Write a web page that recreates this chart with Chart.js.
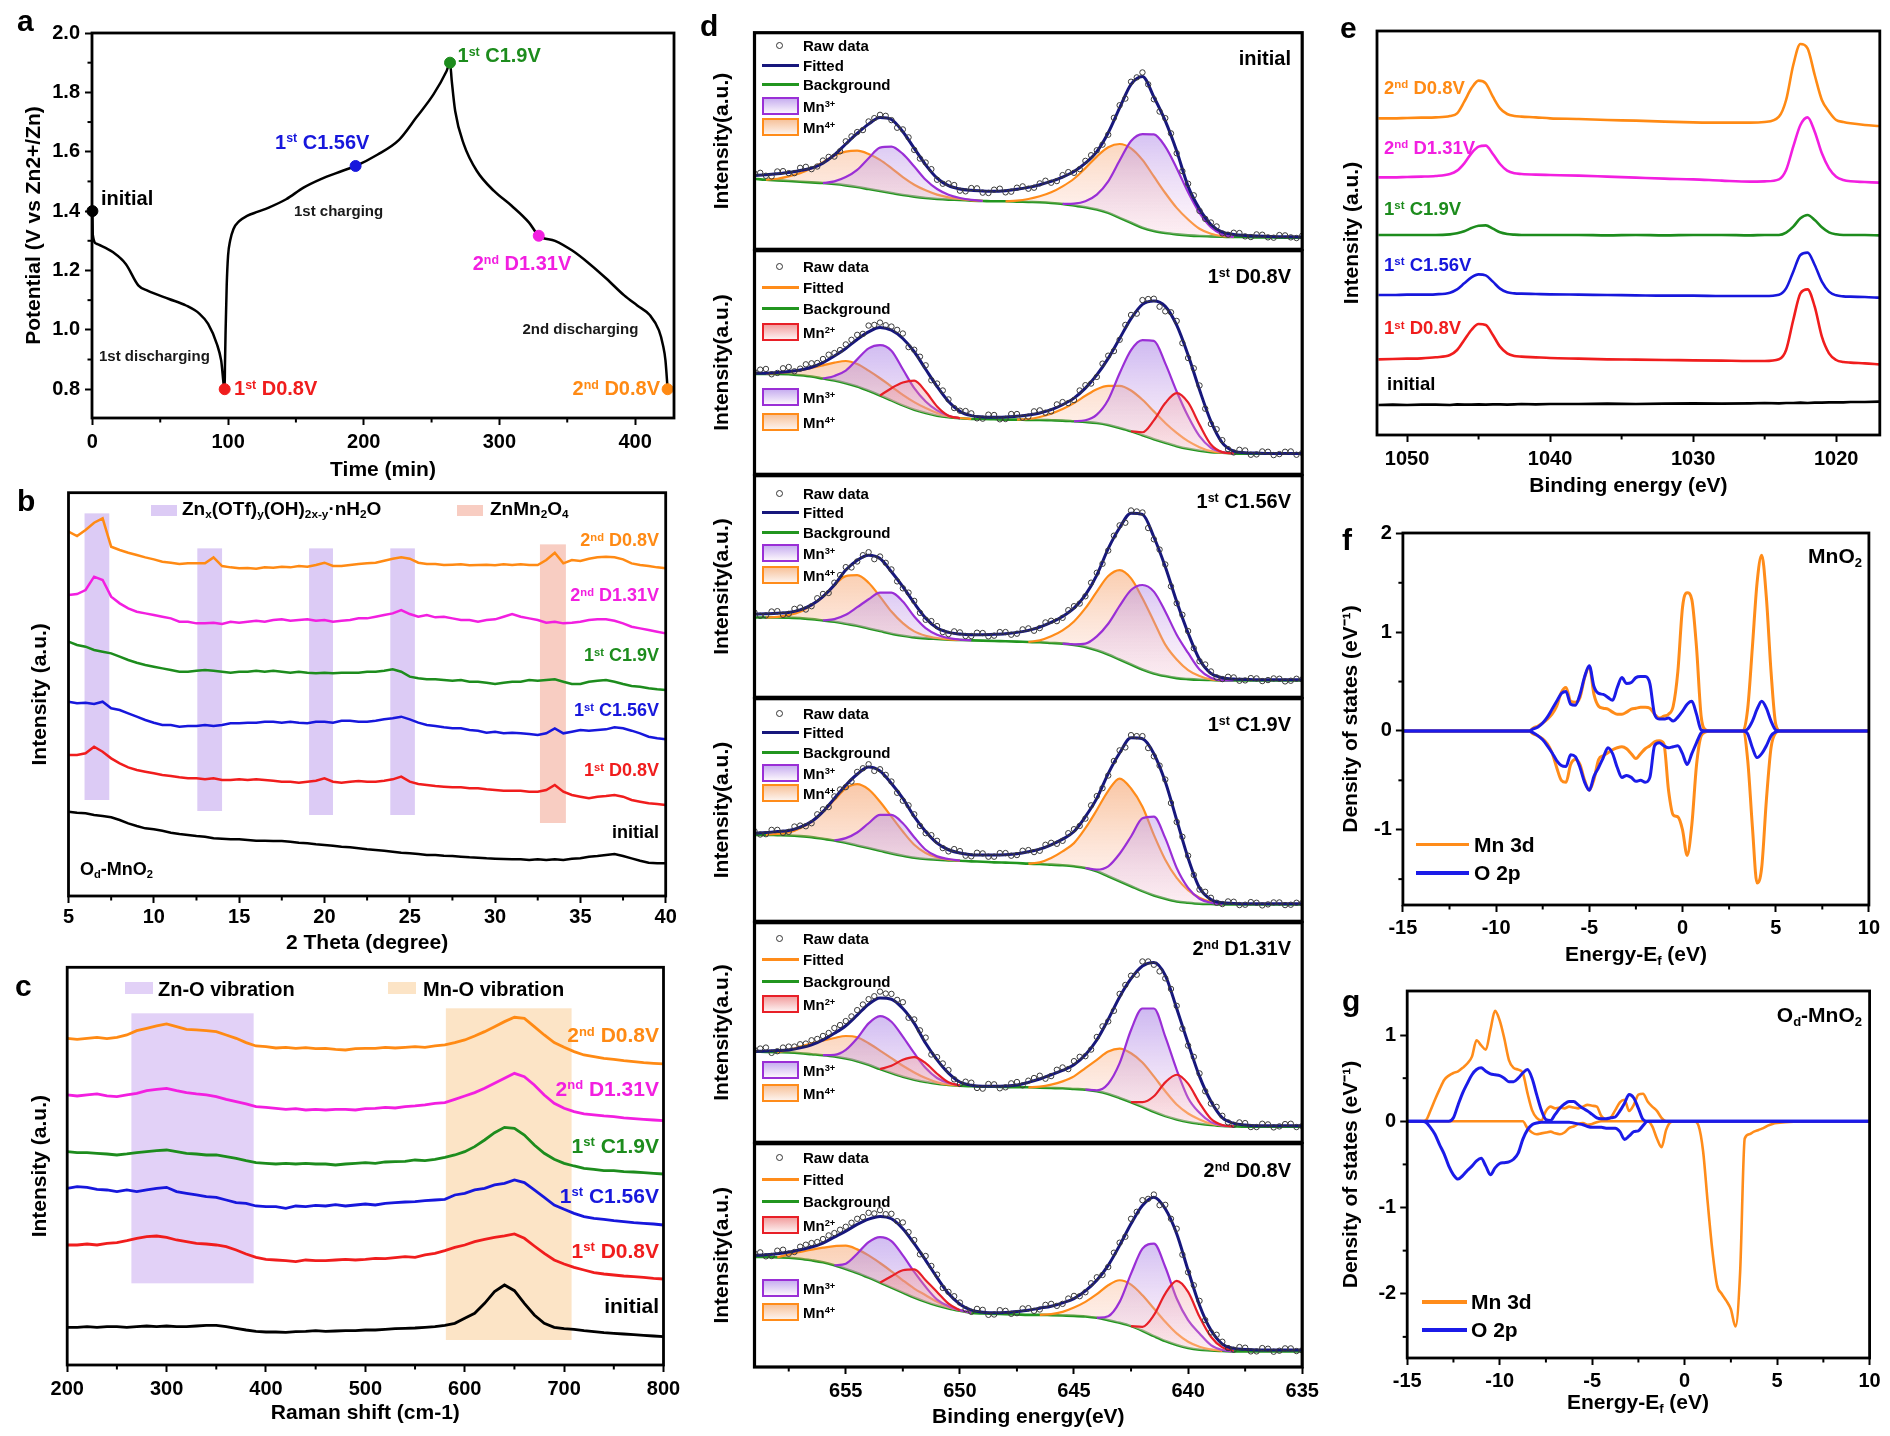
<!DOCTYPE html>
<html lang="en">
<head>
<meta charset="UTF-8">
<title>Mn valence evolution - panels a to g</title>
<style>
  * { box-sizing: border-box; }
  body {
    margin: 0; width: 1890px; height: 1436px; background: #fff;
    position: relative; overflow: hidden;
    font-family: 'Liberation Sans', Arial, Helvetica, sans-serif;
  }
  canvas { position: absolute; }
  .t { position: absolute; white-space: nowrap; font-weight: bold; line-height: 1; }
  .t sup { font-size: 0.62em; position: relative; top: -0.5em; vertical-align: baseline; line-height: 0; }
  .t sub { font-size: 0.62em; position: relative; top: 0.3em; vertical-align: baseline; line-height: 0; }
  .sym { position: absolute; }
</style>
<script src="https://cdn.jsdelivr.net/npm/chart.js"></script>
</head>
<body>
<script>
const _ = null;

// colours
const ORANGE = '#ff8a14', MAGENTA = '#f21fe0', GREEN = '#1d8c1d', BLUE = '#1717dc', RED = '#f01d1d';
const NAVY = '#17177c', BGGREEN = '#22961f', PURPLE = '#9a2fd6', MN4C = '#ff8c1a', MN2C = '#e81f27';
const DOS_OR = '#ff8c1a', DOS_BL = '#1b1be8';

// ---------- a: charge / discharge ----------
const aTime = [0,0.3,3,10,15,24.6,34,40.6,56.5,69,79,85.3,91.7,94.9,97.5,97.7,98.2,99,100,101.5,104,108,114,122,130,142.8,155.6,168,184,194,210,226,238.7,251.4,261,263.6,264.9,267.4,273.8,283.4,296,309,321.7,329,341,353.7,366.5,379,392,401.6,411,417.6,420.5,422.4,424];
const aPot = [1.40,1.32,1.29,1.275,1.262,1.222,1.149,1.132,1.104,1.082,1.054,1.02,0.953,0.897,0.80,0.88,1.00,1.15,1.25,1.30,1.34,1.365,1.384,1.398,1.412,1.44,1.479,1.507,1.535,1.552,1.59,1.64,1.715,1.793,1.871,1.90,1.838,1.737,1.625,1.535,1.468,1.418,1.362,1.317,1.30,1.267,1.222,1.172,1.116,1.082,1.049,0.998,0.95,0.897,0.80];
const aMarkT = [0, 97.5, 194, 263.6, 329, 424];
const aMarkV = [1.40, 0.80, 1.552, 1.90, 1.317, 0.80];
const aTimeTicks = [0, 100, 200, 300, 400];
const aTimeMinor = [50, 150, 250, 350];
const aPotTicks = [0.8, 1.0, 1.2, 1.4, 1.6, 1.8, 2.0];
const aPotMinor = [0.9, 1.1, 1.3, 1.5, 1.7, 1.9];

// ---------- b: XRD ----------
const bTheta = [5,5.5,6,6.5,7,7.5,8,8.5,9,9.5,10,10.5,11,11.5,12,12.5,13,13.5,14,14.5,15,15.5,16,16.5,17,17.5,18,18.5,19,19.5,20,20.5,21,21.5,22,22.5,23,23.5,24,24.5,25,25.5,26,26.5,27,27.5,28,28.5,29,29.5,30,30.5,31,31.5,32,32.5,33,33.5,34,34.5,35,35.5,36,36.5,37,37.5,38,38.5,39,39.5,40];
const bD2_08 = [109.5,108.2,110,112.2,113.5,105,104,103.2,102.5,101.8,101.2,100.5,100.2,99.8,100,100,100,101.8,99.2,98.8,98.5,98.6,98.4,98.8,98.7,99,98.8,99.2,99,99.5,100.2,99.2,99.2,99.5,99.8,100,100.2,100.8,101.4,101.8,101.4,100.2,99.8,99.8,99.5,99.6,99.7,99.4,99.5,99.6,99.4,99.7,99.5,99.7,99.5,99.5,101,103.2,100,101,100.7,101.4,101.8,102,101.8,101.2,100,99.5,99.2,98.8,98.5];
const bD2_131 = [90.5,90.8,92,96,95,90,88,86.5,85.5,85,84.5,84,83.5,82.5,82.5,82,82,82.2,81.8,82.5,82.2,82.5,82.8,82.5,83,83.2,82.8,83,83.2,82.8,83,82.5,82.8,83,83.5,83.5,84,84.5,85,86,84.8,84,84.5,83.8,84,83.5,83,83,82.5,83,83.2,84,84.8,84,83.5,83,82.2,82.5,82,82.2,82.5,83,83.2,83.2,82.8,82,81,80.5,80,79.5,79];
const bC1_19 = [76.5,75.5,75,74,73.5,73,72,71,70.2,69.5,69,68.5,68,67.5,67.5,67.8,68,67.8,67.5,67.2,67.5,67.5,67.8,67.5,67.8,67.5,67.2,67.5,67.2,67,67.2,67,67.2,67.2,67.2,67.5,67.5,67.8,68.2,67.5,66,65.5,65.2,65.2,65,64.8,65,64.5,64.5,64.2,63.8,64.2,64.5,64.5,65,64.8,65,65.2,64.5,63.8,63.8,64.5,64.8,65,64.5,63.8,63.2,63,62.5,62.2,62];
const bC1_156 = [58.5,58,58.2,57.8,58.5,56.5,56,55,54,53,52.2,51.5,51.5,51,51.2,51.2,51.5,51.2,51.5,52,52,52.2,52.2,52.5,52.5,52.2,52.5,52.2,52,52.5,52.5,52.2,52.8,52.8,52.5,52.5,52.8,53.2,53.5,54,53.2,52.2,51.5,51.2,50.8,50.5,50.5,50,49.8,49.2,49.5,49,49.2,49,48.8,48.5,49,50.5,49,49.5,50,49.8,50,50.2,50.8,50.5,49.8,49,48,47.5,47.2];
const bD1_08 = [42.5,42.5,43,45,43.5,41.5,40,38.8,38,37.5,37,36.5,36.2,35.8,35.5,35.5,35.2,35.5,35,35,35.2,35,35.2,35,34.8,34.5,34.5,34.2,34.5,34.8,35.5,34.5,34.2,34.5,34.7,34.5,34.5,34.8,35.2,36,34.5,33.8,33.5,33.2,33,32.8,32.8,32.5,32.5,32.2,32,31.8,31.8,31.8,31.5,31.5,32,33.5,31.5,30.5,30,29.5,30,30.2,30.5,30,29,28.5,28,27.8,27.5];
const bInit = [25.5,25.2,25,24.5,24.2,23.8,23,22,21.2,20.5,20.2,19.8,19.2,18.8,18.5,18.2,18,17.5,17.4,17.2,17.2,17,16.8,16.8,16.7,16.7,16.5,16.2,16,15.7,15.5,15.3,15,14.8,14.5,14.2,14,13.8,13.5,13.2,13,12.8,12.5,12.5,12.3,12.2,12,11.8,11.7,11.5,11.4,11.3,11.2,11.2,11,11.2,11,11.2,11,11.4,11.5,12,12.2,12.5,12.8,12.2,11.5,10.8,10.2,10,10];
const bThetaTicks = [5, 10, 15, 20, 25, 30, 35, 40];
const bThetaMinor = [7.5, 12.5, 17.5, 22.5, 27.5, 32.5, 37.5];
const bBandX0 = [5.94, 12.55, 19.1, 23.86, 32.63];
const bBandX1 = [7.39, 14.0, 20.5, 25.3, 34.15];
const bBandY0 = [29, 25.7, 24.5, 24.5, 22.1];
const bBandY1 = [115, 104.5, 104.5, 104.5, 105.7];

// ---------- c: Raman ----------
const cShift = [200,210,220,230,240,250,260,270,280,290,300,310,320,330,340,350,360,370,380,390,400,410,420,430,440,450,460,470,480,490,500,510,520,530,540,550,560,570,580,590,600,610,620,630,640,650,660,670,680,690,700,710,720,730,740,750,760,770,780,790,800];
const cD2_08 = [98,97.7,98,98.3,97.9,98.3,99,100.3,101,101.7,102.3,101.5,100.7,100.5,100.3,100,99,98,96.7,95.7,95.5,95.1,95.3,95,95.2,94.9,95,94.7,94.5,94.9,95,95,95.3,95.1,95.3,95.5,95.3,95.7,96,96.7,97.5,98.7,100,101.5,103,104.3,104,101.5,99,96.7,95.3,94,93,92.5,92,91.7,91.3,91,90.7,90.5,90.3];
const cD2_131 = [81,80.7,81,81.3,80.7,80.5,81,81.5,82.3,82.7,83,82.3,81.7,81.3,81,80.5,79.7,79,78.3,77.5,77.3,77,76.7,76.9,76.5,76.7,76.5,76.7,76.7,76.5,76.9,77,77.3,77.1,77.5,77.7,78,78.5,78.7,79.7,80.7,81.7,83,84.5,86,87.5,86.5,84,81,78.5,77,76,75.3,75,74.7,74.5,74.1,73.9,73.7,73.5,73.3];
const cC1_19 = [64,63.7,63.7,63.5,63.3,63,63.3,63.7,64,64.3,64.5,64,63.5,63.3,63,63,62.5,62,61.3,60.7,60.5,60.3,60.5,60.3,60.5,60.3,60.3,60,60.3,60.5,60.7,60.5,60.9,61,61.1,61.5,61.3,61.7,62.3,63,64,65.5,67.5,69.7,71.3,71,69,66,63.5,61.7,60.5,59.7,59,58.7,58.3,58.3,58,57.9,57.7,57.5,57.3];
const cC1_156 = [53,53.5,53.3,52.7,52.5,52,52.5,52,52.5,53,53.3,52,51.5,51,50.5,50.3,49.5,48.7,48.5,47.7,47.5,47.5,47,47.7,47.5,47.9,47.7,48.1,47.7,48,48.3,48,48.5,48.7,48.9,49,49.3,49.5,49.7,51,51.5,52.5,53,54,54.5,55.5,54.7,52.5,50.3,48,46.7,45.5,44.5,44,43.7,43.3,43,42.7,42.5,42.3,42];
const cD1_08 = [36,36,36.3,36,36.5,36.7,37.3,38,38.5,38.7,38.3,37.5,37,36.5,36.3,36,35.5,34.5,33.3,32.3,31.7,31.5,31.3,31,31.5,31.3,31.3,31.5,31.7,31.5,31.7,32,31.9,32.2,32.5,32.3,33,33.5,34.3,35.3,36,37,37.7,38.3,38.7,39.3,38,35.7,33.5,31.5,30.3,29.3,28.5,27.7,27.3,27,26.7,26.5,26.3,26,25.8];
const cInit = [11.3,11.3,11.5,11.3,11.5,11.5,11.3,11.5,11.7,11.5,11.7,11.5,11.5,11.7,11.9,11.9,11.5,11,10.5,10.1,9.9,9.9,9.8,10,10.1,10.3,10.1,10.2,10.3,10.3,10.5,10.5,10.7,10.9,11,11.1,11.3,11.5,11.9,12.5,14,15.5,18.5,22,24,22.3,18.5,15,12.5,11.3,10.9,10.7,10.3,10,9.7,9.5,9.3,9.1,8.9,8.7,8.5];
const cShiftTicks = [200, 300, 400, 500, 600, 700, 800];
const cShiftMinor = [250, 350, 450, 550, 650, 750];
const cBandX0 = [264.6, 581];
const cBandX1 = [387.6, 707.5];
const cBandY0 = [24.5, 7.5];
const cBandY1 = [105.5, 107];

// ---------- d: Mn 2p XPS fits ----------
const dBE = [659,658.5,658,657.5,657,656.5,656,655.5,655,654.5,654,653.5,653,652.5,652,651.5,651,650.5,650,649.5,649,648.5,648,647.5,647,646.5,646,645.5,645,644.5,644,643.5,643,642.5,642,641.5,641,640.5,640,639.5,639,638.5,638,637.5,637,636.5,636,635.5,635];
const dBEMid = [658.75,658.25,657.75,657.25,656.75,656.25,655.75,655.25,654.75,654.25,653.75,653.25,652.75,652.25,651.75,651.25,650.75,650.25,649.75,649.25,648.75,648.25,647.75,647.25,646.75,646.25,645.75,645.25,644.75,644.25,643.75,643.25,642.75,642.25,641.75,641.25,640.75,640.25,639.75,639.25,638.75,638.25,637.75,637.25,636.75,636.25,635.75,635.25];
const dBETicks = [655, 650, 645, 640, 635];
const dBEMinor = [657.5, 652.5, 647.5, 642.5, 637.5];

const d1Bg = [21.3,21.0,20.8,20.6,20.4,20.2,20.0,19.7,19.3,18.8,18.2,17.6,17.0,16.4,15.9,15.5,15.2,15.0,14.9,14.7,14.6,14.5,14.5,14.4,14.3,14.2,14.0,13.7,13.2,12.7,12.0,11.0,9.5,8.0,6.5,5.5,4.9,4.5,4.2,4.0,3.9,3.8,3.7,3.7,3.6,3.6,3.5,3.5,3.5];
const d1Fit = [22.3,22.5,22.8,23.2,23.8,24.5,26.0,28.5,31.8,35.0,37.8,39.8,39.2,35.5,30.5,25.5,21.5,19.2,18.2,17.8,17.6,17.5,17.7,18.1,18.7,19.5,20.5,21.8,23.5,26.0,29.5,35.2,42.7,49.8,52.2,46.0,38.8,29.7,19.0,12.2,7.5,5.2,4.5,4.2,4.0,3.9,3.8,3.8,3.7];
const d1Raw = [22.9,22.2,23.5,23.0,24.6,24.2,26.8,28.0,32.6,35.4,38.6,40.6,39.0,36.2,30.0,26.2,21.0,19.9,17.7,18.5,17.1,18.0,17.2,18.6,18.3,19.9,20.1,22.4,23.1,26.7,29.9,34.6,43.5,50.6,53.4,45.3,39.6,29.0,19.8,11.6,8.1,4.8,5.0,3.9,4.5,3.6,4.3,3.6,4.1];
const d1RawMid = [23.1,22.0,23.6,23.0,24.9,25.0,27.9,29.6,34.1,36.0,39.6,40.3,36.7,33.8,27.4,24.2,19.8,19.4,17.5,18.4,17.0,18.3,17.4,19.0,18.6,20.7,20.6,23.3,24.2,28.4,31.6,39.7,45.5,51.9,49.8,41.6,35.0,23.6,16.3,9.2,6.9,4.4,4.9,3.7,4.4,3.5,4.2,3.4];
const d1Mn3 = [_,_,_,_,_,_,20.0,20.5,21.8,24.0,27.5,30.7,31.0,28.8,25.0,21.0,18.2,16.5,15.5,14.9,14.6,_,_,_,_,_,_,13.7,13.8,14.5,16.5,20.5,26.8,32.7,34.8,34.7,31.0,24.5,17.2,11.0,6.7,4.5,3.7,_,_,_,_,_,_];
const d1Mn4 = [_,21.0,21.3,22.0,23.0,24.5,26.3,28.3,29.5,29.8,28.8,27.0,24.5,21.8,19.5,17.8,16.5,15.7,15.2,14.8,14.6,_,14.5,14.7,15.2,16.0,17.2,19.0,21.3,24.5,28.0,30.8,31.8,30.5,27.0,22.0,17.0,12.5,9.0,6.2,4.7,4.0,3.7,_,_,_,_,_,_];

const d2Bg = [30.3,30.3,30.3,30.2,29.9,29.5,28.9,28.3,27.5,26.5,25.2,23.8,22.3,20.8,19.5,18.5,17.7,17.2,16.9,16.7,16.7,16.6,16.5,16.5,16.4,16.4,16.3,16.2,16.0,15.8,15.5,14.9,14.0,13.0,11.8,10.6,9.5,8.5,7.7,7.1,6.7,6.5,6.3,6.2,6.2,6.2,6.2,6.2,6.2];
const d2Fit = [30.5,30.5,30.7,31.0,31.5,32.3,33.7,35.7,38.0,40.7,43.0,44.3,43.5,41.0,37.0,31.7,26.5,22.0,19.0,17.7,17.3,17.2,17.3,17.5,17.9,18.5,19.5,21.0,23.0,26.0,30.0,35.0,41.0,47.0,51.3,52.3,50.7,45.0,36.0,25.5,16.0,9.5,7.0,6.5,6.4,6.3,6.3,6.3,6.3];
const d2Raw = [30.9,31.8,30.6,32.4,31.9,33.5,34.8,36.6,39.2,42.1,44.9,45.8,44.6,42.5,37.6,32.9,27.4,22.6,19.2,18.4,16.8,17.9,16.7,18.2,17.4,19.3,19.0,21.8,22.4,26.9,29.4,35.8,40.6,48.1,52.6,53.0,49.2,46.3,35.1,26.8,15.2,10.3,6.6,7.2,6.0,6.8,6.1,6.9,6.4];
const d2RawMid = [31.6,30.2,32.0,31.1,33.2,33.6,36.1,37.5,40.6,42.4,45.1,45.0,43.6,38.4,35.5,28.4,25.3,20.0,19.1,16.9,18.0,16.6,18.2,17.1,19.0,18.6,21.1,21.5,25.3,27.4,33.4,37.2,45.1,48.5,52.9,50.6,48.9,39.6,32.0,19.8,13.6,7.6,7.4,5.9,6.9,5.8,6.8,5.9];
const d2Mn2 = [_,_,_,_,_,_,_,_,_,_,_,23.8,26.0,27.7,28.3,25.0,20.5,17.7,16.9,_,_,_,_,_,_,_,_,_,_,_,_,_,_,13.0,12.7,16.3,21.5,24.5,21.7,15.0,9.0,6.7,6.3,_,_,_,_,_,_];
const d2Mn3 = [_,_,_,_,_,_,28.9,29.7,31.3,34.7,38.0,39.0,37.3,31.7,26.0,22.0,19.3,17.7,16.9,_,_,_,_,_,_,_,_,_,16.0,16.3,18.0,22.5,30.5,37.5,40.5,40.3,33.5,25.0,17.5,11.5,8.0,6.7,6.3,_,_,_,_,_,_];
const d2Mn4 = [_,30.3,30.5,30.9,31.4,32.1,32.9,33.7,34.2,33.3,31.3,29.0,26.5,24.0,21.8,20.0,18.5,17.5,17.0,16.7,_,_,_,16.5,16.7,17.3,18.3,19.7,21.5,23.7,25.7,26.7,26.7,25.3,22.5,19.0,15.5,12.5,10.0,8.2,7.0,6.5,6.3,_,_,_,_,_,_];

const d3Bg = [24.1,24.1,24.1,24.0,23.9,23.6,23.2,22.8,22.2,21.6,20.8,20.0,19.2,18.6,18.1,17.8,17.6,17.4,17.3,17.2,17.1,17.0,16.9,16.8,16.7,16.6,16.4,16.2,15.8,15.2,14.2,12.9,11.4,9.9,8.4,7.2,6.4,5.8,5.5,5.3,5.2,5.1,5.1,5.1,5.1,5.1,5.1,5.1,5.1];
const d3Fit = [25.1,25.2,25.4,25.6,26.4,27.9,30.4,33.9,38.4,41.4,42.9,41.9,37.9,33.4,28.4,23.9,20.9,19.6,19.1,18.9,18.9,19.0,19.2,19.6,20.2,21.2,22.6,24.4,26.9,30.9,36.9,44.9,51.2,55.6,55.2,48.4,39.4,28.9,19.4,11.4,7.2,5.9,5.5,5.4,5.3,5.3,5.3,5.3,5.3];
const d3Raw = [25.6,24.7,26.0,25.2,27.1,27.5,31.2,34.6,39.3,41.0,43.8,42.5,38.6,32.9,29.1,23.4,21.5,19.1,19.6,18.5,19.4,18.6,19.7,19.2,20.8,20.9,23.1,24.0,27.5,30.5,37.6,44.3,51.9,56.4,55.8,47.7,40.1,28.4,20.0,10.9,7.8,5.5,6.0,5.1,5.7,5.2,5.6,5.0,5.4];
const d3RawMid = [24.6,25.9,24.9,26.7,26.5,29.9,31.5,36.9,39.2,42.9,41.7,40.6,35.0,31.6,25.5,23.0,19.7,19.9,18.5,19.5,18.4,19.7,18.9,20.5,20.1,22.6,23.0,26.3,28.3,34.6,40.3,48.8,52.7,56.1,51.1,44.6,33.5,24.9,14.8,9.9,6.0,6.2,5.0,5.8,4.9,5.7,4.8,5.6];
const d3Mn3 = [_,_,_,_,_,_,23.2,23.6,24.9,27.2,29.6,31.6,31.6,28.9,24.4,20.9,18.9,17.9,17.4,17.2,_,_,_,_,_,_,_,16.2,16.0,16.2,18.4,22.2,27.6,32.4,33.9,31.9,25.9,18.9,13.4,8.4,5.9,5.1,5.1,_,_,_,_,_,_];
const d3Mn4 = [_,24.1,24.3,24.8,25.8,27.9,30.4,33.9,36.6,36.9,34.6,30.4,25.9,22.4,19.9,18.6,17.9,17.5,17.3,_,_,_,_,_,16.7,17.2,18.4,20.2,22.9,26.9,31.9,36.6,38.4,35.9,29.9,22.9,15.9,11.4,8.2,6.4,5.4,5.1,_,_,_,_,_,_,_];

const d4Bg = [26.1,26.1,26.0,25.9,25.7,25.4,24.9,24.4,23.7,22.9,22.1,21.3,20.5,19.8,19.2,18.8,18.6,18.4,18.3,18.1,18.0,17.8,17.7,17.6,17.4,17.3,17.1,16.9,16.6,16.1,15.1,13.6,12.1,10.6,9.1,7.8,6.8,6.0,5.6,5.3,5.2,5.1,5.1,5.1,5.1,5.1,5.1,5.1,5.1];
const d4Fit = [26.6,26.8,27.1,27.4,28.4,30.1,33.1,37.1,41.1,44.4,46.6,45.4,41.6,37.1,31.6,27.1,23.6,21.6,20.6,20.1,20.0,20.0,20.1,20.4,21.0,21.8,23.1,24.8,27.1,31.6,37.1,44.6,50.8,55.4,55.1,50.6,42.1,30.6,19.1,10.1,6.6,5.6,5.4,5.3,5.3,5.3,5.3,5.3,5.3];
const d4Raw = [27.2,26.3,27.6,27.0,28.9,29.6,33.8,37.7,40.5,45.1,47.4,45.9,42.2,36.4,32.3,26.6,24.3,21.1,21.2,19.6,20.5,19.5,20.6,20.0,21.5,21.3,23.7,24.3,27.8,31.0,37.8,44.0,51.6,56.2,55.9,49.8,42.8,30.0,19.8,9.6,7.1,5.2,5.9,5.0,5.6,5.1,5.7,5.0,5.5];
const d4RawMid = [26.2,27.6,26.7,28.6,28.7,32.3,34.5,39.8,42.2,46.2,45.4,44.2,38.8,35.0,28.8,26.0,22.1,21.8,19.8,20.7,19.5,20.6,19.8,21.3,20.9,23.1,23.4,26.6,28.8,35.0,40.2,48.4,52.5,55.9,52.3,47.0,35.7,25.5,14.0,8.9,5.6,6.0,4.9,5.8,4.8,5.7,4.9,5.6];
const d4Mn3 = [_,_,_,_,_,_,_,24.4,25.1,26.8,29.6,32.1,32.1,29.6,25.4,21.6,19.6,18.8,18.3,_,_,_,_,_,_,_,_,_,_,16.1,15.6,16.6,20.4,25.6,31.1,31.6,25.1,16.1,10.1,6.8,5.6,5.1,_,_,_,_,_,_,_];
const d4Mn4 = [_,26.1,26.4,26.8,28.1,30.1,33.1,36.6,40.1,41.4,39.8,36.1,31.6,27.1,23.1,20.6,19.3,18.6,18.3,_,_,_,_,_,17.4,17.8,19.1,21.1,23.6,28.1,33.6,39.4,43.1,40.1,34.6,26.1,18.6,13.1,9.4,7.1,5.8,5.1,_,_,_,_,_,_,_];

const d5Bg = [27.4,27.3,27.2,27.1,26.9,26.6,26.3,25.9,25.3,24.5,23.4,22.1,20.9,19.8,18.9,18.2,17.7,17.3,17.1,16.9,16.8,16.8,16.7,16.6,16.6,16.5,16.4,16.3,16.1,15.9,15.4,14.6,13.4,12.1,10.7,9.2,7.9,6.9,6.1,5.6,5.2,4.9,4.8,4.7,4.7,4.7,4.7,4.7,4.7];
const d5Fit = [27.4,27.6,27.7,27.9,28.5,29.4,30.9,32.9,35.2,38.4,41.7,43.6,43.2,40.4,35.9,29.9,24.9,20.9,18.2,17.2,16.9,16.9,17.0,17.3,18.1,19.1,20.4,21.7,23.4,26.4,30.9,37.1,43.9,49.4,53.2,54.3,50.4,40.4,29.9,19.9,12.4,7.4,5.7,5.2,5.0,5.0,5.0,5.0,5.0];
const d5Raw = [27.9,28.6,27.5,28.9,29.6,30.8,32.1,34.5,36.6,39.9,43.2,45.5,44.8,42.3,37.1,31.6,25.7,21.8,17.6,18.0,16.2,17.5,16.6,18.2,18.6,20.1,20.0,22.6,24.5,26.0,31.8,36.5,44.8,50.3,54.6,53.6,49.5,41.2,29.2,20.8,11.7,8.0,5.3,5.8,4.6,5.4,4.8,5.6,4.9];
const d5RawMid = [28.3,27.0,28.6,28.9,29.8,31.2,33.0,35.4,38.0,41.6,44.1,44.9,43.0,37.6,33.8,26.5,23.8,19.0,18.3,16.4,17.6,16.3,17.8,17.2,19.4,19.2,21.9,22.1,25.8,28.0,35.0,39.7,47.5,50.6,54.6,51.6,46.3,34.3,25.8,15.4,10.7,6.0,6.0,4.6,5.6,4.5,5.5,4.6];
const d5Mn2 = [_,_,_,_,_,_,_,_,_,_,_,22.1,23.1,24.9,25.7,23.9,20.7,18.1,17.2,_,_,_,_,_,_,_,_,_,_,_,_,_,_,12.1,12.1,13.9,18.1,20.4,17.7,11.9,7.1,5.2,4.8,_,_,_,_,_,_];
const d5Mn3 = [_,_,_,_,_,_,26.3,26.4,27.9,31.4,35.9,38.1,36.4,31.9,26.9,22.4,19.4,17.9,17.2,_,_,_,_,_,_,_,_,_,_,15.9,15.7,17.7,23.9,33.9,40.4,40.4,31.9,21.9,13.4,8.9,6.1,5.1,4.8,_,_,_,_,_,_];
const d5Mn4 = [_,_,27.2,27.9,28.9,29.9,30.7,31.5,32.1,31.7,29.9,27.7,25.4,23.1,21.1,19.4,18.1,17.4,17.1,_,_,_,_,_,16.6,16.8,17.4,18.4,19.9,22.4,24.9,27.4,28.3,26.9,24.1,19.9,15.4,11.4,8.7,6.9,5.6,5.0,4.8,_,_,_,_,_,_];

const d6Bg = [33.1,33.1,33.0,32.9,32.6,32.1,31.5,30.6,29.5,28.3,26.9,25.4,23.9,22.4,20.9,19.6,18.5,17.6,16.9,16.3,16.1,16.0,15.9,15.8,15.7,15.7,15.6,15.5,15.4,15.2,14.8,14.1,13.3,12.3,10.9,9.3,7.8,6.6,5.7,5.2,5.0,4.8,4.7,4.7,4.7,4.7,4.7,4.7,4.7];
const d6Fit = [33.6,33.8,34.1,34.6,35.3,36.1,37.3,39.1,40.9,42.9,44.5,45.3,44.6,41.6,37.1,32.1,26.9,22.1,18.9,17.1,16.5,16.3,16.4,16.7,17.1,17.7,18.3,19.3,20.6,22.9,26.1,30.6,36.6,43.1,48.6,51.1,47.6,40.1,29.1,18.6,11.1,6.9,5.6,5.3,5.1,5.1,5.1,5.1,5.1];
const d6Raw = [34.2,33.3,35.0,34.1,36.2,37.3,38.5,40.3,42.2,44.6,46.4,47.2,46.1,43.5,38.2,33.4,27.8,22.6,19.4,16.6,17.2,15.8,16.9,16.2,17.7,17.3,19.0,19.0,21.4,22.5,27.0,30.1,37.4,44.6,50.2,51.9,48.8,41.6,28.5,19.9,10.4,7.6,5.2,5.8,4.7,5.5,4.9,5.6,5.0];
const d6RawMid = [34.5,33.4,35.3,34.6,36.8,37.6,39.6,41.3,43.4,45.1,46.2,46.0,43.9,40.6,33.9,30.4,23.8,21.3,17.4,17.5,15.7,17.1,16.0,17.6,16.9,18.7,18.4,20.6,21.3,25.2,27.7,34.4,39.2,46.7,50.6,48.7,44.6,33.8,24.6,14.1,9.7,5.7,6.0,4.7,5.7,4.6,5.6,4.8];
const d6Mn2 = [_,_,_,_,_,_,_,_,_,_,_,25.4,27.3,29.1,29.4,26.1,22.6,19.1,17.1,_,_,_,_,_,_,_,_,_,_,_,_,_,_,12.3,12.1,15.6,22.1,25.9,22.6,15.1,9.1,5.9,4.9,_,_,_,_,_,_];
const d6Mn3 = [_,_,_,_,_,_,_,30.6,31.1,34.1,37.6,39.1,37.9,33.6,28.6,24.1,20.3,18.3,17.1,16.3,_,_,_,_,_,_,_,_,_,_,14.8,15.3,19.6,28.1,35.6,37.1,30.1,20.6,14.1,10.1,6.6,5.1,4.7,_,_,_,_,_,_];
const d6Mn4 = [_,_,33.0,33.9,34.6,35.3,35.9,36.4,36.5,35.4,33.6,31.3,28.8,26.1,23.6,21.6,19.6,18.1,17.1,16.3,_,_,_,_,_,15.7,15.9,16.6,17.9,19.6,21.9,24.6,26.1,24.8,21.6,17.6,13.6,10.1,7.6,6.1,5.3,4.8,_,_,_,_,_,_,_];

// ---------- e: Mn 2p survey ----------
const eBE = [1052,1051,1050,1049,1048,1047,1046.5,1046,1045.5,1045,1044.5,1044,1043.5,1043,1042.5,1042,1041,1040,1038,1036,1034,1032,1030,1028,1026,1025,1024,1023.5,1023,1022.5,1022,1021.5,1021,1020.5,1020,1019.5,1019,1018,1017];
const eD2_08 = [95,95,95.1,95.2,95.3,95.7,96.5,100,104,106.3,105.5,101.5,98,96.3,95.7,95.5,95.3,95,94.8,94.5,94.3,94,93.8,93.7,93.7,93.9,95.5,100.5,111,117.3,116,108,100.5,97,94.5,93.9,93.5,93,92.7];
const eD2_131 = [77.3,77.3,77.4,77.5,77.7,78.3,79.3,81.5,84.5,86.5,86.8,84.3,81.3,79.3,78.5,78.3,78.1,78,77.8,77.5,77.2,76.9,76.7,76.3,76,76.1,76.7,79.5,86.5,93,95.3,91,84.5,80,77.5,76.5,76.1,75.9,75.7];
const eC1_19 = [60,60,60,60,60,60.2,60.5,61.1,62.1,62.8,62.9,61.9,60.8,60.3,60.1,60,60,60,60,59.9,60,59.9,60,60,59.9,60,60,60.7,62.5,65,66,64.5,62.3,60.8,60.2,60,60,60,59.9];
const eC1_156 = [42,42,42.1,42.1,42.2,42.7,43.7,45.5,47.3,48.2,47.9,46,43.9,42.8,42.5,42.4,42.3,42.2,42.1,42,41.9,41.8,41.8,41.7,41.7,41.7,42.1,44,49,54,54.7,51,46,43,41.9,41.6,41.5,41.4,41.2];
const eD1_08 = [22.7,22.8,22.9,23,23.3,24,25.5,28.5,31.5,33.3,33,30,26.5,24.5,23.7,23.5,23.3,23.1,22.9,22.7,22.6,22.5,22.4,22.3,22.2,22.2,22.7,25.5,34.5,42.5,43.7,38.5,29.5,24.5,22.5,21.9,21.7,21.5,21.2];
const eInit = [9,9.1,9,9.1,9.1,9,9.2,9.1,9.1,9.2,9.1,9.2,9.2,9.1,9.2,9.3,9.2,9.3,9.3,9.4,9.3,9.4,9.5,9.4,9.5,9.6,9.5,9.6,9.6,9.7,9.6,9.7,9.7,9.8,9.8,9.8,9.9,9.9,10];
const eBETicks = [1050, 1040, 1030, 1020];
const eBEMinor = [1045, 1035, 1025];

// ---------- f: PDOS MnO2 ----------
const fE = [-15,-8.5,-8.25,-8,-7.75,-7.5,-7.25,-7,-6.75,-6.5,-6.25,-6,-5.75,-5.5,-5.25,-5,-4.75,-4.5,-4.25,-4,-3.75,-3.5,-3.25,-3,-2.75,-2.5,-2.25,-2,-1.75,-1.5,-1.25,-1,-0.75,-0.5,-0.25,0,0.25,0.5,0.75,1,1.25,1.5,1.75,2,2.25,2.5,2.75,3,3.25,3.5,3.75,4,4.25,4.5,4.75,5,5.25,5.5,7,10];
const fMnUp = [0,0, 0,0.03,0.05,0.08,0.12,0.17,0.25,0.39,0.44,0.30,0.29,0.34,0.54,0.65,0.37,0.25,0.23,0.22,0.19,0.17,0.17,0.19,0.22,0.23,0.24,0.24,0.23,0.17,0.13,0.15,0.17,0.25,0.6,1.25,1.40,1.33,0.85,0.15,0.01,0,0,0,0,0,0,0,0,0.23,0.85,1.5,1.78,1.35,0.6,0.07,0,0, 0,0];
const fMnDn = [0,0, 0,-0.03,-0.05,-0.08,-0.13,-0.22,-0.37,-0.50,-0.52,-0.34,-0.29,-0.34,-0.50,-0.60,-0.49,-0.29,-0.25,-0.22,-0.19,-0.17,-0.16,-0.18,-0.23,-0.28,-0.23,-0.18,-0.15,-0.11,-0.10,-0.13,-0.6,-0.85,-0.87,-1.0,-1.26,-0.95,-0.35,-0.05,-0.01,0,0,0,0,0,0,0,0,-0.30,-0.97,-1.54,-1.38,-0.70,-0.17,-0.02,0,0, 0,0];
const fOUp = [0,0, 0,0.02,0.04,0.08,0.14,0.22,0.30,0.38,0.40,0.27,0.26,0.37,0.55,0.66,0.45,0.38,0.37,0.34,0.31,0.44,0.54,0.48,0.49,0.54,0.55,0.55,0.48,0.17,0.12,0.12,0.13,0.10,0.14,0.20,0.27,0.30,0.17,0.01,0,0,0,0,0,0,0,0,0,0.02,0.10,0.22,0.30,0.23,0.10,0.01,0,0, 0,0];
const fODn = [0,0, 0,-0.02,-0.05,-0.09,-0.15,-0.22,-0.30,-0.35,-0.36,-0.24,-0.26,-0.37,-0.52,-0.60,-0.46,-0.37,-0.27,-0.17,-0.23,-0.37,-0.47,-0.45,-0.47,-0.51,-0.50,-0.52,-0.47,-0.15,-0.12,-0.15,-0.17,-0.16,-0.15,-0.23,-0.34,-0.23,-0.12,-0.02,0,0,0,0,0,0,0,0,0,-0.03,-0.17,-0.27,-0.23,-0.15,-0.05,-0.01,0,0, 0,0];
const fETicks = [-15, -10, -5, 0, 5, 10];
const fEMinor = [-12.5, -7.5, -2.5, 2.5, 7.5];
const fDosTicks = [-1, 0, 1, 2];
const fDosMinor = [-1.5, -0.5, 0.5, 1.5];

// ---------- g: PDOS Od-MnO2 ----------
const gE = [-15,-14.5,-14.25,-14,-13.75,-13.5,-13.25,-13,-12.75,-12.5,-12.25,-12,-11.75,-11.5,-11.25,-11,-10.75,-10.5,-10.25,-10,-9.75,-9.5,-9.25,-9,-8.75,-8.5,-8.25,-8,-7.75,-7.5,-7.25,-7,-6.75,-6.5,-6.25,-6,-5.75,-5.5,-5.25,-5,-4.75,-4.5,-4.25,-4,-3.75,-3.5,-3.25,-3,-2.75,-2.5,-2.25,-2,-1.75,-1.5,-1.25,-1,-0.75,-0.5,-0.25,0,0.25,0.5,0.75,1,1.25,1.5,1.75,2,2.25,2.5,2.75,3,3.25,3.5,3.75,4,4.25,4.5,4.75,5,7,10];
const gMnUp = [0, 0,0,0.01,0.12,0.25,0.37,0.48,0.53,0.56,0.58,0.62,0.67,0.75,0.94,0.88,0.83,1.06,1.28,1.17,0.96,0.71,0.62,0.60,0.56,0.33,0.13,0.04,0.01,0.12,0.17,0.15,0.16,0.15,0.17,0.16,0.15,0.17,0.19,0.18,0.17,0.06,0.02,0.04,0.13,0.22,0.25,0.12,0.19,0.31,0.32,0.23,0.17,0.12,0.04,0, 0,0,0,0,0,0,0,0,0,0,0,0,0,0,0,0,0,0,0,0,0,0,0,0, 0,0];
const gMnDn = [0, 0,0,0,0,0,0,0,0,0,0,0,0,0,0,0,0,0,0,0,0,0,0,0,0, -0.08,-0.13,-0.15,-0.14,-0.13,-0.12,-0.14,-0.15,-0.13,-0.08,-0.06,-0.03,-0.02,-0.04,-0.03,-0.01, 0,0,0,0,0,0,0,0,0,0,0, -0.06,-0.2,-0.3,-0.1,-0.01, 0,0,0,0,0, -0.05,-0.35,-0.95,-1.5,-1.9,-2.0,-2.08,-2.18,-2.38,-1.75,-0.2,-0.15,-0.12,-0.1,-0.08,-0.05,-0.03,-0.02, 0,0];
const gOUp = [0, 0,0,0,0,0,0,0,0, 0.04,0.19,0.33,0.44,0.54,0.60,0.62,0.58,0.55,0.54,0.53,0.50,0.46,0.46,0.50,0.56,0.60,0.50,0.31,0.13,0.02,0.01,0.08,0.15,0.20,0.23,0.23,0.19,0.15,0.12,0.08,0.04,0.03,0.03,0.04,0.05,0.12,0.21,0.31,0.27,0.15,0.02, 0,0,0,0,0,0,0,0,0,0,0,0,0,0,0,0,0,0,0,0,0,0,0,0,0,0,0,0,0, 0,0];
const gODn = [0, 0,0, -0.01,-0.07,-0.15,-0.27,-0.38,-0.52,-0.62,-0.67,-0.63,-0.57,-0.52,-0.46,-0.43,-0.52,-0.62,-0.54,-0.49,-0.48,-0.47,-0.44,-0.37,-0.21,-0.10,-0.04,-0.02,-0.01,-0.01,-0.01,-0.01,-0.01,-0.01,-0.01,-0.02,-0.03,-0.04,-0.06,-0.07,-0.07,-0.07,-0.08,-0.08,-0.08,-0.12,-0.21,-0.17,-0.12,-0.11,-0.05, 0,0,0,0,0,0,0,0,0,0,0,0,0,0,0,0,0,0,0,0,0,0,0,0,0,0,0,0,0, 0,0];
const gETicks = [-15, -10, -5, 0, 5, 10];
const gEMinor = [-12.5, -7.5, -2.5, 2.5, 7.5];
const gDosTicks = [-2, -1, 0, 1];
const gDosMinor = [-2.5, -1.5, -0.5, 0.5];

// ================= helpers =================
Chart.defaults.font.family = "'Liberation Sans', Arial, Helvetica, sans-serif";
Chart.defaults.font.weight = 'bold';
Chart.defaults.color = '#000';

const FONT_TICK = { size: 20, weight: 'bold' };
const FONT_TITLE = { size: 21, weight: 'bold' };

const framePlugin = {
  id: 'frame',
  afterDatasetsDraw(chart, args, o) {
    const { ctx, chartArea: a, scales } = chart;
    ctx.save();
    ctx.strokeStyle = '#000';
    ctx.lineWidth = o.width || 2.8;
    ctx.strokeRect(a.left, a.top, a.right - a.left, a.bottom - a.top);
    ctx.lineWidth = 2;
    (o.minorX || []).forEach(v => {
      const p = scales.x.getPixelForValue(v);
      ctx.beginPath(); ctx.moveTo(p, a.bottom); ctx.lineTo(p, a.bottom + 4.5); ctx.stroke();
    });
    (o.minorY || []).forEach(v => {
      const p = scales.y.getPixelForValue(v);
      ctx.beginPath(); ctx.moveTo(a.left, p); ctx.lineTo(a.left - 4.5, p); ctx.stroke();
    });
    ctx.restore();
  }
};

const bandsPlugin = {
  id: 'bands',
  beforeDatasetsDraw(chart, args, o) {
    const items = o.items || [];
    const { ctx, scales: { x, y } } = chart;
    ctx.save();
    items.forEach(b => {
      const x0 = x.getPixelForValue(b.x0), x1 = x.getPixelForValue(b.x1);
      const y0 = y.getPixelForValue(b.y0), y1 = y.getPixelForValue(b.y1);
      ctx.fillStyle = b.color;
      ctx.fillRect(Math.min(x0, x1), Math.min(y0, y1), Math.abs(x1 - x0), Math.abs(y1 - y0));
    });
    ctx.restore();
  }
};
Chart.register(framePlugin, bandsPlugin);

function axis(spec, fixed, horizontal) {
  const majors = spec.majors || [];
  return {
    type: 'linear',
    min: spec.min, max: spec.max, reverse: !!spec.reverse,
    afterBuildTicks: s => { s.ticks = majors.map(v => ({ value: v })); },
    afterFit: s => { if (horizontal) s.height = fixed; else s.width = fixed; },
    border: { display: false },
    grid: majors.length
      ? { display: true, drawOnChartArea: false, drawTicks: true, tickLength: 7, tickWidth: 2, tickColor: '#000' }
      : { display: false, drawTicks: false },
    ticks: {
      display: majors.length > 0, font: FONT_TICK, color: '#000', autoSkip: false, maxRotation: 0,
      padding: spec.tickPad != null ? spec.tickPad : 4,
      callback: v => (spec.fmt ? spec.fmt(v) : String(v))
    },
    title: spec.title
      ? { display: true, text: spec.title, font: FONT_TITLE, color: '#000', padding: 0 }
      : { display: false }
  };
}

function makeChart(box, pad, xs, ys, datasets, plug) {
  const left = Math.floor(box.x - pad.l), top = Math.floor(box.y - pad.t);
  const W = Math.ceil(box.x + box.w + pad.r) - left, H = Math.ceil(box.y + box.h + pad.b) - top;
  const pl = box.x - left, pt = box.y - top, pr = W - pl - box.w, pb = H - pt - box.h;
  const cv = document.createElement('canvas');
  cv.width = W; cv.height = H;
  cv.style.left = left + 'px'; cv.style.top = top + 'px';
  cv.style.width = W + 'px'; cv.style.height = H + 'px';
  document.body.appendChild(cv);
  return new Chart(cv.getContext('2d'), {
    type: 'line',
    data: { datasets: datasets },
    options: {
      responsive: false, animation: false, devicePixelRatio: 1, events: [],
      layout: { padding: { left: 0, top: pt, right: pr, bottom: 0 } },
      plugins: {
        legend: { display: false }, tooltip: { enabled: false },
        frame: plug.frame || {}, bands: plug.bands || {}
      },
      scales: { x: axis(xs, pb, true), y: axis(ys, pl, false) }
    }
  });
}

const pts = (xs, ys) => xs.map((x, i) => ({ x: x, y: ys[i] }));

function line(xs, ys, color, width, extra) {
  return Object.assign({
    data: pts(xs, ys), borderColor: color, backgroundColor: color, borderWidth: width,
    pointRadius: 0, pointHoverRadius: 0, fill: false, spanGaps: false, tension: 0
  }, extra || {});
}

function rawPoints(xs, ys) {
  return { data: pts(xs, ys), showLine: false, pointRadius: 2.7, pointHoverRadius: 2.7, pointStyle: 'circle',
           pointBorderWidth: 1, pointBorderColor: '#3a3a3a', pointBackgroundColor: 'rgba(0,0,0,0)' };
}

function vgrad(stops) {
  return (c) => {
    const ch = c.chart, a = ch.chartArea;
    if (!a) return stops[0][1];
    const g = ch.ctx.createLinearGradient(0, a.top, 0, a.bottom);
    stops.forEach(s => g.addColorStop(s[0], s[1]));
    return g;
  };
}
const MN3_FILL = vgrad([[0, 'rgba(118,66,214,0.75)'], [0.5, 'rgba(172,132,230,0.45)'], [1, 'rgba(255,215,235,0.15)']]);
const MN4_FILL = vgrad([[0, 'rgba(236,112,34,0.75)'], [0.5, 'rgba(246,162,108,0.45)'], [1, 'rgba(255,220,220,0.15)']]);
const MN2_FILL = vgrad([[0, 'rgba(214,30,40,0.72)'], [0.5, 'rgba(234,116,118,0.42)'], [1, 'rgba(255,220,220,0.15)']]);

function text(html, x, base, size, color, align, weight) {
  const el = document.createElement('div');
  el.className = 't';
  el.innerHTML = html;
  el.style.fontSize = size + 'px';
  el.style.color = color || '#000';
  if (weight) el.style.fontWeight = weight;
  el.style.left = x + 'px';
  el.style.top = (base - 0.8465 * size) + 'px';
  if (align === 'right') el.style.transform = 'translateX(-100%)';
  if (align === 'center') el.style.transform = 'translateX(-50%)';
  document.body.appendChild(el);
  return el;
}

function sym(x, y, w, h, css) {
  const el = document.createElement('div');
  el.className = 'sym';
  el.style.left = x + 'px'; el.style.top = y + 'px';
  el.style.width = w + 'px'; el.style.height = h + 'px';
  Object.assign(el.style, css || {});
  document.body.appendChild(el);
  return el;
}

// ================= a =================
makeChart({ x: 92, y: 32, w: 582, h: 386 }, { l: 70, t: 16, r: 24, b: 65 },
  { min: -0.3, max: 428.7, majors: aTimeTicks, title: 'Time (min)', tickPad: 5 },
  { min: 0.703, max: 2.0, majors: aPotTicks, fmt: v => v.toFixed(1), title: 'Potential (V vs Zn2+/Zn)', tickPad: 5 },
  [
    { data: pts(aMarkT, aMarkV), showLine: false, pointRadius: 5.5, pointHoverRadius: 5.5, clip: false,
      pointBackgroundColor: ['#000', RED, BLUE, GREEN, MAGENTA, ORANGE],
      pointBorderColor: ['#000', RED, BLUE, GREEN, MAGENTA, ORANGE] },
    line(aTime, aPot, '#000', 2.5, { cubicInterpolationMode: 'monotone' })
  ],
  { frame: { minorX: aTimeMinor, minorY: aPotMinor } });

// ================= b =================
const LAV = '#dccbf5', SALMON = '#f8cdc2';
makeChart({ x: 68.5, y: 492.7, w: 597.2, h: 403.3 }, { l: 40, t: 10, r: 24, b: 60 },
  { min: 5, max: 40, majors: bThetaTicks, title: '2 Theta (degree)', tickPad: 2 },
  { min: 0.2, max: 121.2, title: 'Intensity (a.u.)' },
  [
    line(bTheta, bD2_08, ORANGE, 2.5), line(bTheta, bD2_131, MAGENTA, 2.5),
    line(bTheta, bC1_19, GREEN, 2.5), line(bTheta, bC1_156, BLUE, 2.5),
    line(bTheta, bD1_08, RED, 2.5), line(bTheta, bInit, '#000', 2.5)
  ],
  { frame: { minorX: bThetaMinor },
    bands: { items: bBandX0.map((v, i) => ({ x0: v, x1: bBandX1[i], y0: bBandY0[i], y1: bBandY1[i], color: i < 4 ? LAV : SALMON })) } });

// ================= c =================
const LAV2 = '#e2d1f7', PEACH = '#fce4c6';
makeChart({ x: 67.2, y: 967.3, w: 596.3, h: 397.7 }, { l: 39, t: 10, r: 24, b: 61 },
  { min: 200, max: 800, majors: cShiftTicks, title: 'Raman shift (cm-1)', tickPad: 5 },
  { min: 0, max: 119.3, title: 'Intensity (a.u.)' },
  [
    line(cShift, cD2_08, ORANGE, 2.8), line(cShift, cD2_131, MAGENTA, 2.8),
    line(cShift, cC1_19, GREEN, 2.8), line(cShift, cC1_156, BLUE, 2.8),
    line(cShift, cD1_08, RED, 2.8), line(cShift, cInit, '#000', 2.8)
  ],
  { frame: { minorX: cShiftMinor },
    bands: { items: cBandX0.map((v, i) => ({ x0: v, x1: cBandX1[i], y0: cBandY0[i], y1: cBandY1[i], color: i === 0 ? LAV2 : PEACH })) } });

// ================= d =================
const dPanels = [
  { top: 32,   bottom: 250,  ymax: 65.4, bg: d1Bg, fit: d1Fit, raw: d1Raw, rawMid: d1RawMid, mn2: null,  mn3: d1Mn3, mn4: d1Mn4 },
  { top: 250,  bottom: 475,  ymax: 67.5, bg: d2Bg, fit: d2Fit, raw: d2Raw, rawMid: d2RawMid, mn2: d2Mn2, mn3: d2Mn3, mn4: d2Mn4 },
  { top: 475,  bottom: 698,  ymax: 66.9, bg: d3Bg, fit: d3Fit, raw: d3Raw, rawMid: d3RawMid, mn2: null,  mn3: d3Mn3, mn4: d3Mn4 },
  { top: 698,  bottom: 922,  ymax: 67.2, bg: d4Bg, fit: d4Fit, raw: d4Raw, rawMid: d4RawMid, mn2: null,  mn3: d4Mn3, mn4: d4Mn4 },
  { top: 922,  bottom: 1143, ymax: 66.3, bg: d5Bg, fit: d5Fit, raw: d5Raw, rawMid: d5RawMid, mn2: d5Mn2, mn3: d5Mn3, mn4: d5Mn4 },
  { top: 1143, bottom: 1367, ymax: 67.2, bg: d6Bg, fit: d6Fit, raw: d6Raw, rawMid: d6RawMid, mn2: d6Mn2, mn3: d6Mn3, mn4: d6Mn4 }
];
dPanels.forEach((p, k) => {
  const last = k === dPanels.length - 1;
  const ds = [];
  ds.push(rawPoints(dBE, p.raw));
  ds.push(rawPoints(dBEMid, p.rawMid));
  ds.push(line(dBE, p.fit, NAVY, 3, { cubicInterpolationMode: 'monotone' }));
  const comps = [];
  if (p.mn2) comps.push([p.mn2, MN2C, MN2_FILL]);
  comps.push([p.mn3, PURPLE, MN3_FILL]);
  comps.push([p.mn4, MN4C, MN4_FILL]);
  const bgIndex = ds.length + comps.length;
  comps.forEach(c => ds.push(line(dBE, c[0], c[1], 2.2,
    { cubicInterpolationMode: 'monotone', backgroundColor: c[2], fill: { target: bgIndex } })));
  ds.push(line(dBE, p.bg, BGGREEN, 2.6, { cubicInterpolationMode: 'monotone' }));
  makeChart({ x: 754.5, y: p.top, w: 547.7, h: p.bottom - p.top }, { l: 44.5, t: 3, r: 24, b: last ? 63 : 3 },
    { min: 635, max: 659, reverse: true, majors: last ? dBETicks : [], title: last ? 'Binding energy(eV)' : null, tickPad: 5 },
    { min: 0, max: p.ymax, title: 'Intensity(a.u.)' },
    ds,
    { frame: { width: 3.2, minorX: last ? dBEMinor : [] } });
});

// ================= e =================
makeChart({ x: 1377, y: 31, w: 502.8, h: 404 }, { l: 37, t: 10, r: 8, b: 64 },
  { min: 1016.95, max: 1052.1, reverse: true, majors: eBETicks, title: 'Binding energy (eV)', tickPad: 5 },
  { min: 0, max: 121.2, title: 'Intensity (a.u.)' },
  [
    line(eBE, eD2_08, ORANGE, 2.6, { cubicInterpolationMode: 'monotone' }),
    line(eBE, eD2_131, MAGENTA, 2.6, { cubicInterpolationMode: 'monotone' }),
    line(eBE, eC1_19, GREEN, 2.6, { cubicInterpolationMode: 'monotone' }),
    line(eBE, eC1_156, BLUE, 2.6, { cubicInterpolationMode: 'monotone' }),
    line(eBE, eD1_08, RED, 2.6, { cubicInterpolationMode: 'monotone' }),
    line(eBE, eInit, '#000', 2.6)
  ],
  { frame: { minorX: eBEMinor } });

// ================= f =================
makeChart({ x: 1402.9, y: 531, w: 466, h: 374 }, { l: 63, t: 14, r: 24, b: 40 },
  { min: -15, max: 10, majors: fETicks, tickPad: 4 },
  { min: -1.762, max: 2.004, majors: fDosTicks, title: 'Density of states (eV\u207B\u00B9)', tickPad: 4 },
  [
    line(fE, fOUp, DOS_BL, 3, { cubicInterpolationMode: 'monotone' }),
    line(fE, fODn, DOS_BL, 3, { cubicInterpolationMode: 'monotone' }),
    line(fE, fMnUp, DOS_OR, 3, { cubicInterpolationMode: 'monotone' }),
    line(fE, fMnDn, DOS_OR, 3, { cubicInterpolationMode: 'monotone' })
  ],
  { frame: { minorX: fEMinor, minorY: fDosMinor } });

// ================= g =================
makeChart({ x: 1407.2, y: 989, w: 462.4, h: 369 }, { l: 68, t: 14, r: 24, b: 40 },
  { min: -15, max: 10, majors: gETicks, tickPad: 4 },
  { min: -2.745, max: 1.511, majors: gDosTicks, title: 'Density of states (eV\u207B\u00B9)', tickPad: 4 },
  [
    line(gE, gOUp, DOS_BL, 3, { cubicInterpolationMode: 'monotone' }),
    line(gE, gODn, DOS_BL, 3, { cubicInterpolationMode: 'monotone' }),
    line(gE, gMnUp, DOS_OR, 2.6, { cubicInterpolationMode: 'monotone' }),
    line(gE, gMnDn, DOS_OR, 2.6, { cubicInterpolationMode: 'monotone' })
  ],
  { frame: { minorX: gEMinor, minorY: gDosMinor } });

// ================= text: panel letters =================
text('a', 17, 31.7, 30); text('b', 17, 511.7, 30); text('c', 15, 996.7, 30);
text('d', 700, 36, 30); text('e', 1340, 38.3, 30); text('f', 1342, 550, 30); text('g', 1342, 1011.7, 30);

// ---- a annotations
text('initial', 101, 205, 20, '#000');
text('1<sup>st</sup> C1.56V', 275, 148.5, 20, BLUE);
text('1<sup>st</sup> C1.9V', 457.5, 61.7, 20, GREEN);
text('2<sup>nd</sup> D1.31V', 472.7, 270, 20, MAGENTA);
text('1<sup>st</sup> D0.8V', 234, 395, 20, RED);
text('2<sup>nd</sup> D0.8V', 660, 395, 20, ORANGE, 'right');
text('1st charging', 294, 216, 15, '#1a1a1a');
text('1st discharging', 99, 361, 15, '#1a1a1a');
text('2nd discharging', 522.5, 334, 15, '#1a1a1a');

// ---- b legend + labels
sym(151, 505, 26, 11, { background: LAV });
text('Zn<sub>x</sub>(OTf)<sub>y</sub>(OH)<sub>2x-y</sub>\u00B7nH<sub>2</sub>O', 182, 515, 19);
sym(457, 505, 26, 11, { background: SALMON });
text('ZnMn<sub>2</sub>O<sub>4</sub>', 490, 515, 19);
text('2<sup>nd</sup> D0.8V', 659, 546.7, 18, ORANGE, 'right');
text('2<sup>nd</sup> D1.31V', 659, 601.5, 18, MAGENTA, 'right');
text('1<sup>st</sup> C1.9V', 659, 661.5, 18, GREEN, 'right');
text('1<sup>st</sup> C1.56V', 659, 716.5, 18, BLUE, 'right');
text('1<sup>st</sup> D0.8V', 659, 776.5, 18, RED, 'right');
text('initial', 659, 838, 18, '#000', 'right');
text('O<sub>d</sub>-MnO<sub>2</sub>', 80, 875, 18);

// ---- c legend + labels
sym(125, 982, 28, 12, { background: LAV2 });
text('Zn-O vibration', 158, 996, 20);
sym(388, 982, 28, 12, { background: PEACH });
text('Mn-O vibration', 423, 996, 20);
text('2<sup>nd</sup> D0.8V', 659, 1042, 21, ORANGE, 'right');
text('2<sup>nd</sup> D1.31V', 659, 1095.5, 21, MAGENTA, 'right');
text('1<sup>st</sup> C1.9V', 659, 1152.5, 21, GREEN, 'right');
text('1<sup>st</sup> C1.56V', 659, 1202.5, 21, BLUE, 'right');
text('1<sup>st</sup> D0.8V', 659, 1257.5, 21, RED, 'right');
text('initial', 659, 1313, 21, '#000', 'right');

// ---- d legends + labels
const BOXFILL = {
  mn2: ['#e81f27', 'linear-gradient(#f2a0a0, #fdf0f0)'],
  mn3: ['#9a2fd6', 'linear-gradient(#c8b0f0, #fbf5fc)'],
  mn4: ['#ff8c1a', 'linear-gradient(#f7c39c, #fdf2ec)']
};
function dLegend(rows) {
  rows.forEach(r => {
    const kind = r[0], label = r[1], base = r[2], cy = base - 5.4;
    if (kind === 'raw') {
      sym(775.5, cy - 3.5, 7, 7, { border: '1.2px solid #333', borderRadius: '50%' });
    } else if (kind === 'line') {
      sym(762, cy - 1.5, 37, 3, { background: r[3] });
    } else {
      const f = BOXFILL[r[3]];
      sym(762, cy - 9, 37, 18, { border: '2.2px solid ' + f[0], background: f[1] });
    }
    text(label, 803, base, 15);
  });
}
dLegend([['raw', 'Raw data', 50.4], ['line', 'Fitted', 70.4, NAVY], ['line', 'Background', 89.4, BGGREEN],
         ['box', 'Mn<sup>3+</sup>', 111.4, 'mn3'], ['box', 'Mn<sup>4+</sup>', 132.4, 'mn4']]);
dLegend([['raw', 'Raw data', 271.4], ['line', 'Fitted', 292.4, MN4C], ['line', 'Background', 313.4, BGGREEN],
         ['box', 'Mn<sup>2+</sup>', 337.4, 'mn2'], ['box', 'Mn<sup>3+</sup>', 402.4, 'mn3'], ['box', 'Mn<sup>4+</sup>', 427.4, 'mn4']]);
dLegend([['raw', 'Raw data', 498.4], ['line', 'Fitted', 517.4, NAVY], ['line', 'Background', 537.4, BGGREEN],
         ['box', 'Mn<sup>3+</sup>', 558.4, 'mn3'], ['box', 'Mn<sup>4+</sup>', 580.4, 'mn4']]);
dLegend([['raw', 'Raw data', 718.4], ['line', 'Fitted', 737.4, NAVY], ['line', 'Background', 757.4, BGGREEN],
         ['box', 'Mn<sup>3+</sup>', 778.4, 'mn3'], ['box', 'Mn<sup>4+</sup>', 798.4, 'mn4']]);
dLegend([['raw', 'Raw data', 943.4], ['line', 'Fitted', 964.4, MN4C], ['line', 'Background', 986.4, BGGREEN],
         ['box', 'Mn<sup>2+</sup>', 1009.4, 'mn2'], ['box', 'Mn<sup>3+</sup>', 1075.4, 'mn3'], ['box', 'Mn<sup>4+</sup>', 1098.4, 'mn4']]);
dLegend([['raw', 'Raw data', 1162.4], ['line', 'Fitted', 1184.4, MN4C], ['line', 'Background', 1206.4, BGGREEN],
         ['box', 'Mn<sup>2+</sup>', 1230.4, 'mn2'], ['box', 'Mn<sup>3+</sup>', 1293.4, 'mn3'], ['box', 'Mn<sup>4+</sup>', 1317.4, 'mn4']]);
text('initial', 1291, 65, 20, '#000', 'right');
text('1<sup>st</sup> D0.8V', 1291, 283.3, 20, '#000', 'right');
text('1<sup>st</sup> C1.56V', 1291, 508, 20, '#000', 'right');
text('1<sup>st</sup> C1.9V', 1291, 730.7, 20, '#000', 'right');
text('2<sup>nd</sup> D1.31V', 1291, 955, 20, '#000', 'right');
text('2<sup>nd</sup> D0.8V', 1291, 1177.3, 20, '#000', 'right');

// ---- e labels
text('2<sup>nd</sup> D0.8V', 1384, 94.6, 18.5, ORANGE);
text('2<sup>nd</sup> D1.31V', 1384, 154.6, 18.5, MAGENTA);
text('1<sup>st</sup> C1.9V', 1384, 215.6, 18.5, GREEN);
text('1<sup>st</sup> C1.56V', 1384, 271.6, 18.5, BLUE);
text('1<sup>st</sup> D0.8V', 1384, 335, 18.5, RED);
text('initial', 1387, 390.7, 18.5, '#000');

// ---- f / g labels, legends, x titles
text('MnO<sub>2</sub>', 1862, 563, 21, '#000', 'right');
sym(1416, 842.5, 53, 3.5, { background: DOS_OR });
text('Mn 3d', 1474, 851.7, 21);
sym(1416, 871, 53, 3.5, { background: DOS_BL });
text('O 2p', 1474, 880, 21);
text('Energy-E<sub>f</sub> (eV)', 1636, 960.5, 21, '#000', 'center');

text('O<sub>d</sub>-MnO<sub>2</sub>', 1862, 1021.7, 21, '#000', 'right');
sym(1422, 1300, 45, 3.5, { background: DOS_OR });
text('Mn 3d', 1471, 1309, 21);
sym(1422, 1328, 45, 3.5, { background: DOS_BL });
text('O 2p', 1471, 1337, 21);
text('Energy-E<sub>f</sub> (eV)', 1638, 1409, 21, '#000', 'center');
</script>
</body>
</html>
